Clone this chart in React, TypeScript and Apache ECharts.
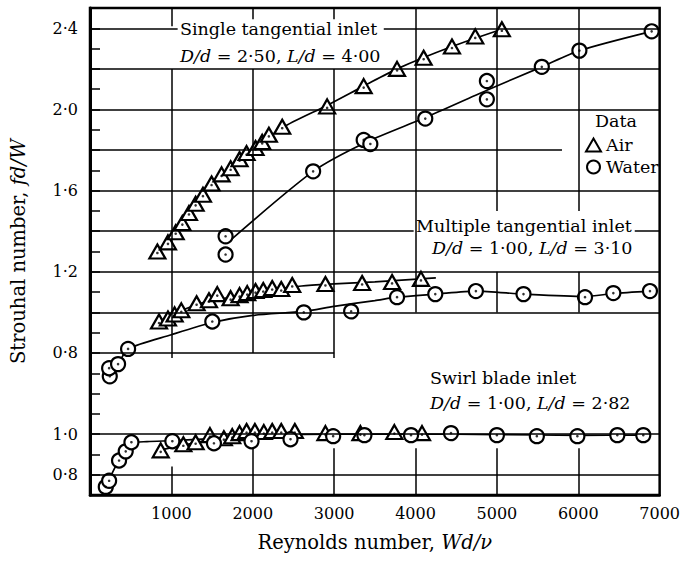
import React, { useEffect, useRef } from 'react';
import * as echarts from 'echarts';

const FONT = 'DejaVu Serif';
const SWIRL_OFFSET = 0.6; // swirl-blade values are drawn on a shifted band of the same scale

// Axis ticks / labels
const xTickValues = [1000, 2000, 3000, 4000, 5000, 6000, 7000];
const xTickLabels = ['1000', '2000', '3000', '4000', '5000', '6000', '7000'];
const yTickValues = [0.2, 0.4, 0.8, 1.2, 1.6, 2.0, 2.4];
const yTickLabels = ['0·8', '1·0', '0·8', '1·2', '1·6', '2·0', '2·4'];

// Single tangential inlet  D/d = 2.50, L/d = 4.00
const singleAir = [
  [828, 1.30], [958, 1.345], [1053, 1.395], [1135, 1.44], [1216, 1.49], [1298, 1.535],
  [1388, 1.58], [1494, 1.635], [1617, 1.68], [1728, 1.71], [1838, 1.755], [1924, 1.785],
  [2034, 1.81], [2116, 1.84], [2198, 1.875], [2362, 1.915], [2914, 2.015], [3363, 2.115],
  [3773, 2.20], [4100, 2.255], [4448, 2.31], [4734, 2.36], [5061, 2.395],
];
const singleWater = [
  [1666, 1.375], [1666, 1.285], [2742, 1.695], [3363, 1.85], [3445, 1.83], [4120, 1.955],
  [4877, 2.14], [4877, 2.05], [5552, 2.21], [6014, 2.29], [6902, 2.385],
];
const singleAirCurve = [
  [828, 1.30], [1053, 1.40], [1298, 1.535], [1494, 1.63], [1728, 1.715], [2034, 1.81],
  [2362, 1.91], [2914, 2.02], [3363, 2.115], [3773, 2.20], [4448, 2.31], [5061, 2.395],
];
const singleWaterCurve = [
  [1695, 1.345], [2742, 1.695], [3400, 1.84], [4120, 1.96], [4877, 2.095],
  [5552, 2.21], [6014, 2.29], [6902, 2.385],
];

// Multiple tangential inlet  D/d = 1.00, L/d = 3.10
const multipleAir = [
  [848, 0.955], [958, 0.97], [1040, 0.99], [1122, 1.01], [1310, 1.045], [1462, 1.06],
  [1564, 1.09], [1728, 1.07], [1838, 1.085], [1932, 1.095], [2034, 1.105], [2129, 1.11],
  [2239, 1.12], [2350, 1.115], [2485, 1.135], [2893, 1.14], [3344, 1.145], [3712, 1.15],
  [4067, 1.165],
];
const multipleWater = [
  [243, 0.685], [235, 0.725], [345, 0.745], [468, 0.82], [1503, 0.955], [2627, 1.0],
  [3209, 1.005], [3773, 1.075], [4243, 1.09], [4742, 1.105], [5327, 1.09], [6083, 1.075],
  [6431, 1.095], [6881, 1.105],
];
const multipleAirCurve = [
  [848, 0.955], [1100, 1.005], [1400, 1.05], [1800, 1.08], [2200, 1.11], [2600, 1.13],
  [3000, 1.14], [3500, 1.15], [4067, 1.165], [4250, 1.17],
];
const multipleWaterCurve = [
  [250, 0.70], [345, 0.745], [468, 0.82], [1000, 0.89], [1503, 0.95], [2000, 0.985],
  [2627, 1.005], [3000, 1.03], [3500, 1.058], [3773, 1.075], [4243, 1.09], [4742, 1.105],
  [5327, 1.09], [6083, 1.078], [6431, 1.093], [6881, 1.105],
];

// Swirl blade inlet  D/d = 1.00, L/d = 2.82  (values on the lower scale)
const swirlAir = [
  [869, 0.92], [1147, 0.95], [1298, 0.96], [1474, 0.995], [1645, 0.98], [1748, 0.99],
  [1838, 1.005], [1924, 1.015], [2026, 1.015], [2136, 1.01], [2239, 1.015], [2350, 1.015],
  [2517, 1.015], [2893, 1.005], [3323, 1.005], [3740, 1.01], [4080, 1.005],
];
const swirlWater = [
  [194, 0.74], [235, 0.77], [357, 0.87], [439, 0.915], [509, 0.96], [1012, 0.965],
  [1523, 0.955], [1985, 0.965], [2464, 0.975], [2988, 0.99], [3372, 0.995], [3945, 0.995],
  [4436, 1.005], [5000, 0.995], [5491, 0.99], [5989, 0.99], [6480, 0.995], [6799, 0.995],
];
const swirlWaterCurve = [
  [194, 0.74], [300, 0.83], [400, 0.90], [509, 0.955], [700, 0.963], [1012, 0.968],
  [1500, 0.978], [2000, 0.99], [2500, 0.998], [3000, 1.0], [4000, 1.0], [5000, 0.998],
  [6000, 0.994], [6799, 0.995],
];
const swirlAirCurve = [
  [869, 0.922], [1147, 0.945], [1474, 0.97], [2000, 0.993],
];

// Grid line segments (layout of the printed figure): [fixed, from, to]
const hGrid = [
  [2.4, 0, 1077], [2.4, 3610, 7000], [2.2, 0, 7000], [2.0, 0, 7000], [1.8, 0, 5800],
  [1.6, 0, 7000], [1.4, 0, 3977], [1.4, 6694, 7000], [1.2, 0, 7000], [1.0, 0, 7000],
  [0.8, 0, 3000], [0.4, 0, 7000], [0.2, 0, 7000],
];
const vGrid = [
  [1000, 0.775, 2.2], [1000, 2.41, 2.5], [2000, 0.8, 2.2], [2000, 2.445, 2.5],
  [3000, 0.775, 2.2], [3000, 2.445, 2.5], [4000, 1.0, 2.5],
  [5000, 1.0, 1.2], [5000, 1.5, 2.5], [6000, 1.0, 1.2], [6000, 1.5, 2.5],
  [1000, 0.1, 0.24], [2000, 0.1, 0.33], [3000, 0.1, 0.33], [4000, 0.1, 0.33],
  [5000, 0.1, 0.33], [6000, 0.1, 0.33],
];

const shift = (arr: number[][]) => arr.map(([x, y]) => [x, +(y - SWIRL_OFFSET).toFixed(4)]);

export default function App() {
  const ref = useRef<HTMLDivElement>(null);
  useEffect(() => {
    const chart = echarts.init(ref.current!, null, { renderer: 'svg' });
    const airAll = [...singleAir, ...multipleAir, ...shift(swirlAir)];
    const waterAll = [...singleWater, ...multipleWater, ...shift(swirlWater)];
    const curves = [singleAirCurve, singleWaterCurve, multipleAirCurve, multipleWaterCurve,
      shift(swirlWaterCurve), shift(swirlAirCurve)];
    const gridLines = [
      ...hGrid.map(([y, a, b]) => [{ coord: [a, y] }, { coord: [b, y] }]),
      ...vGrid.map(([x, a, b]) => [{ coord: [x, a] }, { coord: [x, b] }]),
    ];
    const rich = { i: { fontStyle: 'italic', fontFamily: FONT, fontSize: 17.5, fill: '#000' } };
    const txt = (text: string, x: number, y: number) => ({
      type: 'text', x, y, z: 10,
      style: { text, fontFamily: FONT, fontSize: 17.5, fill: '#000', align: 'left', verticalAlign: 'middle', rich },
    });
    const nameStyle = {
      color: '#000', fontFamily: FONT, fontSize: 19.5,
      rich: { i: { fontStyle: 'italic', fontFamily: FONT, fontSize: 19.5, color: '#000' } },
    };
    const option: any = {
      animation: false,
      backgroundColor: '#fff',
      grid: { left: 90, right: 21, top: 8, bottom: 69, show: true, borderColor: '#000', borderWidth: 2.5 },
      xAxis: {
        type: 'value', min: 0, max: 7000, interval: 1000,
        axisLine: { show: true, lineStyle: { color: '#000', width: 2.5 } },
        axisTick: { show: false },
        splitLine: { show: false },
        axisLabel: {
          color: '#000', fontFamily: FONT, fontSize: 16, margin: 10,
          formatter: (v: number) => { const i = xTickValues.indexOf(Math.round(v)); return i >= 0 ? xTickLabels[i] : ''; },
        },
        name: 'Reynolds number, {i|Wd/ν}', nameLocation: 'middle', nameGap: 37,
        nameTextStyle: nameStyle,
      },
      yAxis: {
        type: 'value', min: 0.1, max: 2.5, interval: 0.1,
        axisLine: { show: true, lineStyle: { color: '#000', width: 3 } },
        axisTick: { show: true, inside: true, length: 10, lineStyle: { color: '#000', width: 1.5 } },
        splitLine: { show: false },
        axisLabel: {
          color: '#000', fontFamily: FONT, fontSize: 16, margin: 12,
          formatter: (v: number) => {
            const i = yTickValues.findIndex((t) => Math.abs(t - v) < 1e-6);
            return i >= 0 ? yTickLabels[i] : '';
          },
        },
        name: 'Strouhal number, {i|fd/W}', nameLocation: 'middle', nameGap: 62, nameRotate: 90,
        nameTextStyle: nameStyle,
      },
      legend: {
        data: ['Air', 'Water'], orient: 'vertical', left: 580, top: 131,
        itemWidth: 15, itemHeight: 13, itemGap: 4, selectedMode: false,
        textStyle: { color: '#000', fontFamily: FONT, fontSize: 17.5 },
      },
      graphic: [
        txt('Single tangential inlet', 180, 29),
        txt('{i|D/d} = 2·50, {i|L/d} = 4·00', 180, 56),
        txt('Multiple tangential inlet', 416, 226),
        txt('{i|D/d} = 1·00, {i|L/d} = 3·10', 432, 248),
        txt('Swirl blade inlet', 430, 378),
        txt('{i|D/d} = 1·00, {i|L/d} = 2·82', 430, 403),
        txt('Data', 595, 121),
      ],
      series: [
        {
          name: 'grid', type: 'line', data: [], z: 1, silent: true,
          markLine: { silent: true, symbol: ['none', 'none'], label: { show: false },
            lineStyle: { color: '#000', width: 1.5, type: 'solid' }, emphasis: { disabled: true }, data: gridLines },
        },
        ...curves.map((c, k) => ({
          name: 'curve' + k, type: 'line', data: c, z: 3, silent: true, smooth: 0.25,
          showSymbol: false, symbol: 'none', lineStyle: { color: '#000', width: 1.7 },
        })),
        {
          name: 'Air', type: 'scatter', data: airAll, z: 4, symbol: 'triangle', symbolSize: [16, 14],
          itemStyle: { color: '#fff', borderColor: '#000', borderWidth: 2.2, opacity: 1 },
        },
        {
          name: 'Water', type: 'scatter', data: waterAll, z: 4, symbol: 'circle', symbolSize: 14,
          itemStyle: { color: '#fff', borderColor: '#000', borderWidth: 2.2, opacity: 1 },
        },
        {
          name: 'airDot', type: 'scatter', data: airAll, z: 5, symbol: 'circle', symbolSize: 2.6,
          symbolOffset: [0, 1.5], itemStyle: { color: '#000' }, silent: true,
        },
        {
          name: 'waterDot', type: 'scatter', data: waterAll, z: 5, symbol: 'circle', symbolSize: 2.6,
          itemStyle: { color: '#000' }, silent: true,
        },
      ],
    };
    chart.setOption(option);
    return () => chart.dispose();
  }, []);
  return <div ref={ref} style={{ position: 'fixed', left: 0, top: 0, width: 683, height: 564, background: '#fff' }} />;
}
